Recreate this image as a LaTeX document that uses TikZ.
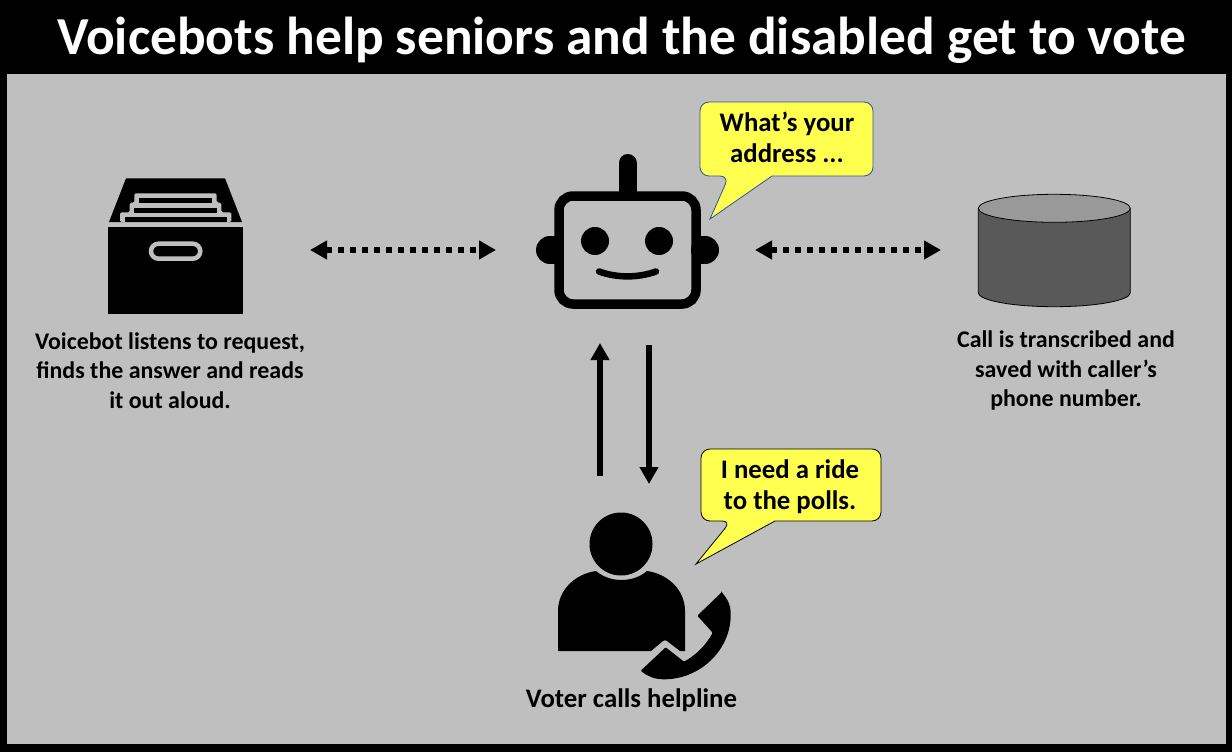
\documentclass[tikz,border=0pt]{standalone}
\usepackage{fontspec}
\setmainfont{Carlito}
\usetikzlibrary{arrows.meta}
\definecolor{panelgray}{HTML}{BFBFBF}
\definecolor{bubblefill}{HTML}{FFFF4F}
\definecolor{bubbleblue}{HTML}{2F5597}
\definecolor{dbbody}{HTML}{595959}
\definecolor{dbtop}{HTML}{999999}
\tikzset{
  px/.style={x=1pt,y=-1pt},
  caption/.style={font=\bfseries\fontsize{23.9}{29.5}\selectfont,align=center,text=black,inner sep=0pt},
  bubbletext/.style={font=\bfseries\fontsize{26.8}{31}\selectfont,align=center,text=black,inner sep=0pt},
  anchorbox/.style={inner sep=0pt,outer sep=0pt,draw=none,fill=none},
  dotlink/.style={line width=5.5pt,dash pattern=on 6pt off 6pt,{Triangle[length=17pt,width=18pt]}-{Triangle[length=17pt,width=18pt]},black},
  solidlink/.style={line width=6pt,-{Triangle[length=17pt,width=18pt]},black},
  robotline/.style={line width=9.5pt,black},
}
\begin{document}
\begin{tikzpicture}[px]
\useasboundingbox (0,0) rectangle (1232,752);
\fill[black] (0,0) rectangle (1232,752);
\fill[panelgray] (7,74) rectangle (1226,744);
\node[font=\bfseries\fontsize{53.4}{58}\selectfont,text=white,inner sep=0pt] (title) at (621.5,40.5) {Voicebots help seniors and the disabled get to vote};

% file box icon
\fill[black] (126,178.3) -- (225,178.3) -- (242,222) -- (109,222) -- cycle;
\fill[panelgray,rounded corners=1.5pt] (120,222) -- (120,212.3) -- (129.7,212.3) -- (129.7,202.7) -- (134.3,202.7) -- (134.3,193.3) -- (216.7,193.3) -- (216.7,202.7) -- (221.3,202.7) -- (221.3,212.3) -- (231.3,212.3) -- (231.3,222) -- cycle;
\fill[black] (139,198) rectangle (212,203.3);
\fill[black] (134.3,207.7) rectangle (216.7,212.7);
\fill[black] (124.7,217.3) rectangle (226.7,222);
\fill[black] (107.7,227) rectangle (243.3,314.3);
\draw[panelgray,line width=4.5pt,rounded corners=7.5pt] (151,243.7) rectangle (200.3,258.7);

% robot icon
\draw[robotline,rounded corners=14pt] (559,196) rectangle (696,304);
\draw[black,line width=18pt,line cap=round] (627.5,163) -- (627.5,192);
\fill[black] (550,250) circle[radius=14];
\fill[black] (705,250) circle[radius=14];
\fill[black] (550,236) rectangle (556,264);
\fill[black] (699,236) rectangle (705,264);
\fill[panelgray] (564,220) rectangle (691,280);
\fill[black] (595,241) circle[radius=14];
\fill[black] (659,241) circle[radius=14];
\draw[black,line width=6.5pt,line cap=round] (599,271.5) .. controls (617,278) and (638,278) .. (656,271.5);

% database icon
\draw[black,fill=dbbody,line width=0.8pt] (978.3,208.3) -- (978.3,292.7) arc[start angle=180,end angle=360,x radius=76,y radius=-14] -- (1130.3,208.3) -- cycle;
\draw[black,fill=dbtop,line width=0.8pt] (1054.3,208.3) ellipse[x radius=76,y radius=14];

% person icon
\fill[black] (621,544) circle[radius=31.5];
\fill[black] (558,651) -- (558,611) .. controls (558,590) and (575,574) .. (596,571) .. controls (610,583) and (633,583) .. (647,571) .. controls (668,574) and (685,590) .. (685,611) -- (685,651) -- (680,651) -- (667,641) .. controls (666,640) and (664,640) .. (663,641) -- (651,651) -- cycle;
\fill[black,rounded corners=1pt] (721.7,592.3) -- (697.3,615.7) -- (712.7,632.7) .. controls (706,645) and (696,655) .. (684,661.7) -- (665.7,647.3) -- (640.7,670.7) .. controls (647,676) and (655,679.3) .. (663.3,679.3) .. controls (700,679.3) and (731,650) .. (730.7,613.3) .. controls (730.7,605) and (727,598) .. (721.7,592.3) -- cycle;

% invisible holders for connector ends
\node[anchorbox,minimum width=280pt,minimum height=10pt] (fileicon) at (170,250) {};
\node[anchorbox,minimum width=259pt,minimum height=186pt] (roboticon) at (625.5,250) {};
\node[anchorbox,minimum width=200pt,minimum height=10pt] (dbicon) at (1041,250) {};
\node[anchorbox,minimum width=200pt,minimum height=8pt] (personicon) at (625,480) {};
\coordinate (upline) at (600,410);
\coordinate (downline) at (649,410);

\draw[dotlink] (fileicon.east) -- (roboticon.west);
\draw[dotlink] (roboticon.east) -- (dbicon.west);
\draw[solidlink] (personicon.north -| upline) -- (roboticon.south -| upline);
\draw[solidlink,shorten <=2pt] (roboticon.south -| downline) -- (personicon.south -| downline);

% bubbles
\draw[bubbleblue,fill=bubblefill,line width=0.8pt] (772,176) [rounded corners=9pt] -- (873,176) -- (873,102) -- (700,102) -- (700,176) -- (729,176) [sharp corners] -- (710,219) -- cycle;
\node[bubbletext] (botsays) at (787,137) {What’s your\\address ...};
\draw[black,fill=bubblefill,line width=0.8pt] (775,521) [rounded corners=9pt] -- (881,521) -- (881,449) -- (701,449) -- (701,521) -- (731,521) [sharp corners] -- (696,564) -- cycle;
\node[bubbletext] (votersays) at (790,487) {I need a ride\\to the polls.};

% captions
\node[caption] (filecap) at (170,370.5) {Voicebot listens to request,\\finds the answer and reads\\it out aloud.};
\node[caption] (dbcap) at (1066,370.5) {Call is transcribed and\\saved with caller’s\\phone number.};
\node[bubbletext] (personcap) at (631.5,700.5) {Voter calls helpline};
\end{tikzpicture}
\end{document}
